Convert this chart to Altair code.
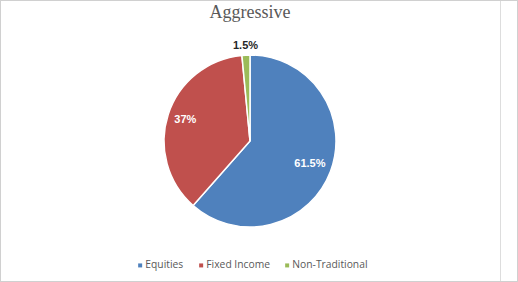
import altair as alt
import pandas as pd

categories = ["Equities", "Fixed Income", "Non-Traditional"]
values = [61.5, 37.0, 1.5]
labels = ["61.5%", "37%", "1.5%"]
colors = ["#4F81BD", "#C0504D", "#9BBB59"]

df = pd.DataFrame({"cat": categories, "val": values, "lab": labels, "ord": [0, 1, 2]})

base = alt.Chart(df).encode(
    theta=alt.Theta("val:Q", stack=True),
    order=alt.Order("ord:Q"),
)

arc = base.mark_arc(outerRadius=86, stroke="white", strokeWidth=1.5).encode(
    color=alt.Color(
        "cat:N",
        scale=alt.Scale(domain=categories, range=colors),
        sort=categories,
        legend=alt.Legend(
            title=None,
            orient="none",
            legendX=135,
            legendY=260,
            direction="horizontal",
            symbolType="square",
            symbolSize=16,
            symbolStrokeWidth=0,
            labelFont="Open Sans",
            labelFontSize=10.3,
            labelColor="#595959",
            labelOffset=0,
            columnPadding=12,
        ),
    )
)

def lab_layer(cat, r, color):
    return base.mark_text(
        radius=r, font="Liberation Sans", fontWeight="bold", fontSize=11,
        color=color, align="center", baseline="middle",
    ).encode(
        text=alt.condition(alt.datum.cat == cat, alt.Text("lab:N"), alt.value("")),
    )

t1 = lab_layer("Equities", 64, "white")
t2 = lab_layer("Fixed Income", 68, "white")
t3 = lab_layer("Non-Traditional", 95, "#262626")

border = alt.Chart(df).mark_rect(fill=None, stroke="#d0d0d0", strokeWidth=1).encode(
    x=alt.value(0.5), x2=alt.value(517.5), y=alt.value(0.5), y2=alt.value(281.5)
)

chart = alt.layer(arc, t1, t2, t3, border).properties(
    width=500,
    height=282,
    padding={"left": 0, "top": 0, "right": 18, "bottom": 0},
    autosize=alt.AutoSizeParams(type="none"),
    title=alt.TitleParams(
        "Aggressive", font="Liberation Serif", fontSize=18, fontWeight="normal",
        color="#595959", anchor="middle", offset=-22,
    ),
).configure_view(stroke=None).configure(background="white")

chart.save("out.html", embed_options={"renderer": "svg", "actions": False})
